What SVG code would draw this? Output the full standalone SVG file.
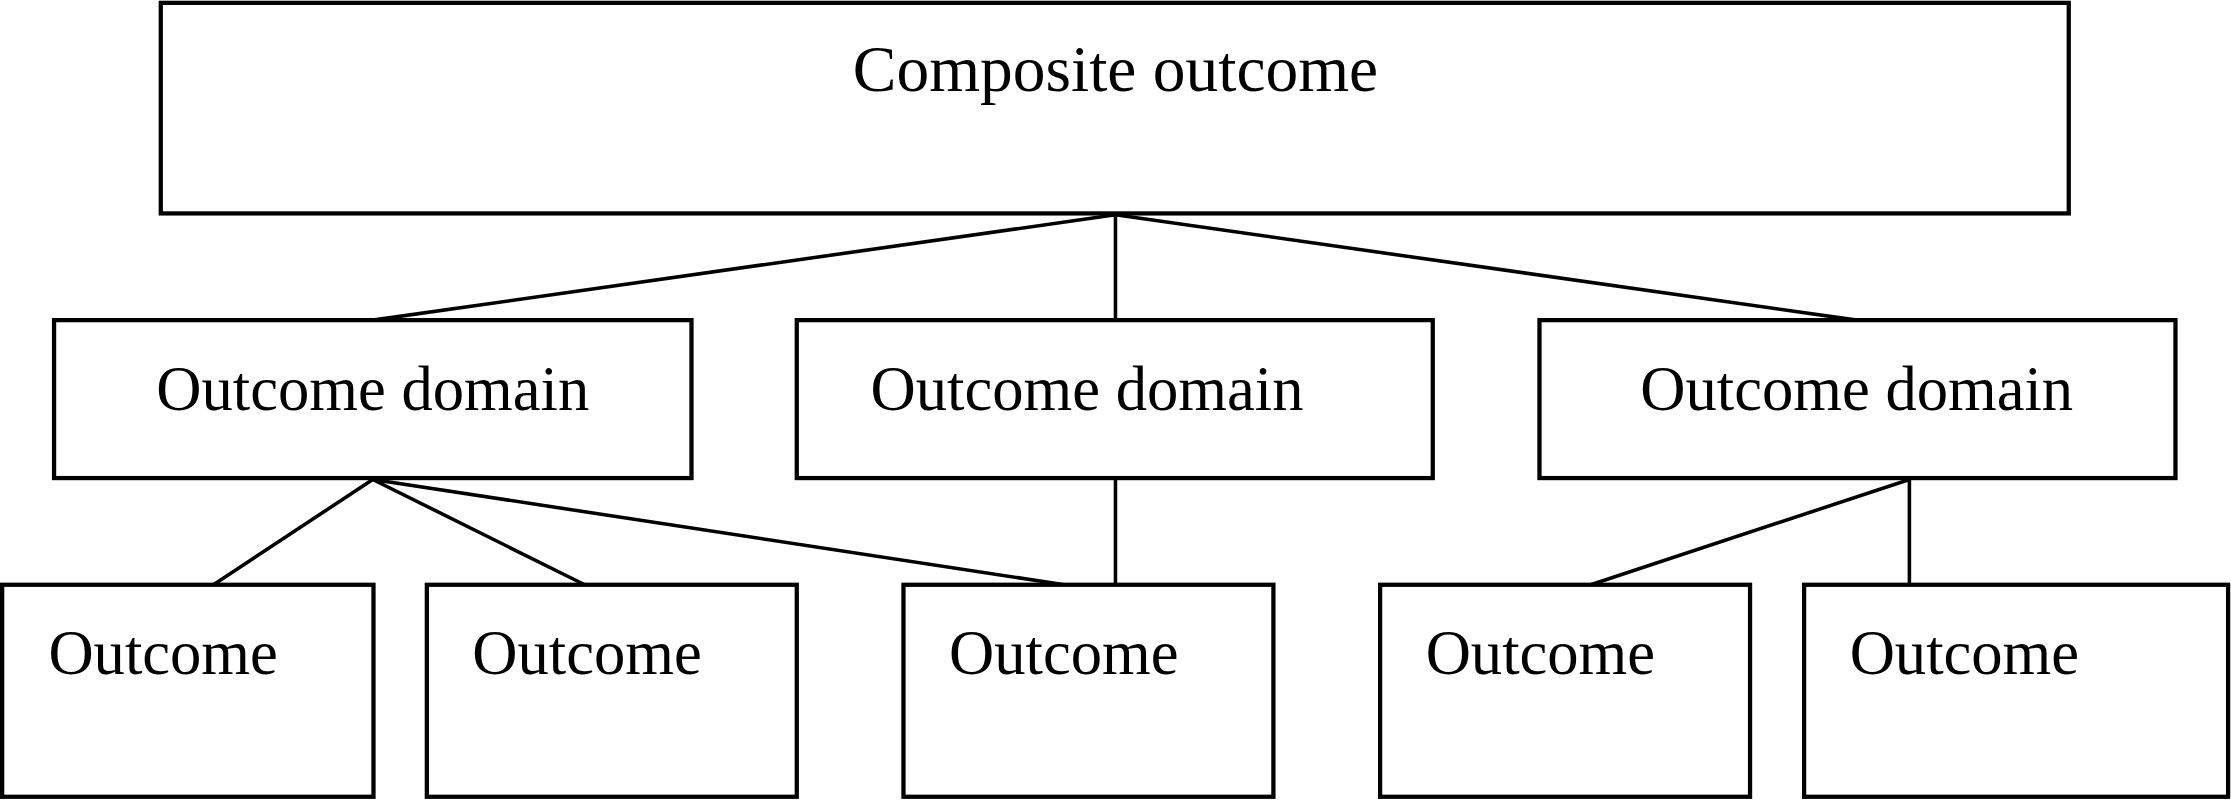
<svg xmlns="http://www.w3.org/2000/svg" width="2231" height="800" viewBox="0 0 2231 800">
<style>
.b{fill:#fff;stroke:#000;stroke-width:3}
.c{stroke:#000;stroke-width:2.5;fill:none}
text{font-family:"Liberation Serif","Times New Roman",serif;fill:#000}
.t1{font-size:46px}
.t2{font-size:44px}
</style>
<rect width="2231" height="800" fill="#fff"/>
<g transform="scale(1.4228)">
<g id="connectors">
<path class="c" d="M784,151L262,225M784,151V225M784,151L1305,225M262,337L150,411M262,337L411,411M262,337L748,411M784,337V411M1342,337L1118,411M1342,337V411"/>
</g>
<g id="composite"><rect class="b" x="113" y="2" width="1341" height="148"/><text class="t1" x="784" y="64" text-anchor="middle">Composite outcome</text></g>
<g id="domain1"><rect class="b" x="38" y="225" width="448" height="111"/><text class="t2" x="262" y="288" text-anchor="middle">Outcome domain</text></g>
<g id="domain2"><rect class="b" x="560" y="225" width="447" height="111"/><text class="t2" x="764" y="288" text-anchor="middle">Outcome domain</text></g>
<g id="domain3"><rect class="b" x="1082" y="225" width="447" height="111"/><text class="t2" x="1305" y="288" text-anchor="middle">Outcome domain</text></g>
<g id="out1"><rect class="b" x="1.5" y="411" width="261" height="149"/><text class="t2" x="34" y="474">Outcome</text></g>
<g id="out2"><rect class="b" x="300" y="411" width="260" height="149"/><text class="t2" x="332" y="474">Outcome</text></g>
<g id="out3"><rect class="b" x="635" y="411" width="260" height="149"/><text class="t2" x="667" y="474">Outcome</text></g>
<g id="out4"><rect class="b" x="970" y="411" width="260" height="149"/><text class="t2" x="1002" y="474">Outcome</text></g>
<g id="out5"><rect class="b" x="1268" y="411" width="298" height="149"/><text class="t2" x="1300" y="474">Outcome</text></g>
</g>
</svg>
